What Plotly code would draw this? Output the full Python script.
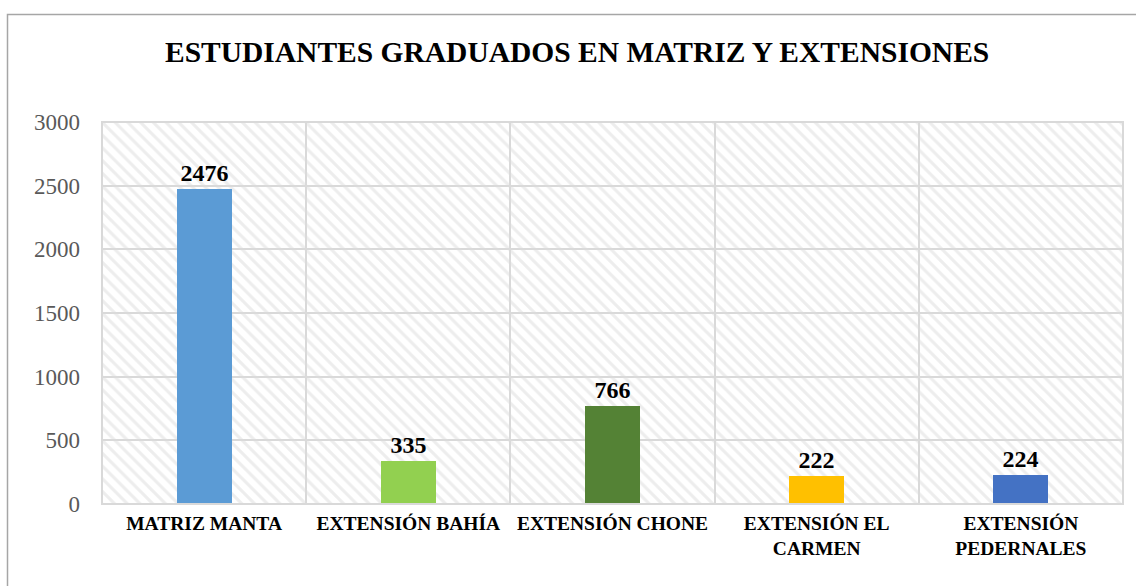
import plotly.graph_objects as go

categories = ["MATRIZ MANTA", "EXTENSIÓN BAHÍA", "EXTENSIÓN CHONE", "EXTENSIÓN EL<br>CARMEN", "EXTENSIÓN<br>PEDERNALES"]
values = [2476, 335, 766, 222, 224]
colors = ["#5B9BD5", "#92D050", "#548235", "#FFC000", "#4472C4"]
y_max = 3000
title = "ESTUDIANTES GRADUADOS EN MATRIZ Y EXTENSIONES"

W, H = 1136, 586
L, R, T, B = 102, 13, 122, 82

fig = go.Figure()
# hatched plot-area background
fig.add_trace(go.Bar(
    x=categories, y=[y_max] * len(categories), width=1,
    marker=dict(color="rgba(0,0,0,0)", line=dict(width=0),
                pattern=dict(shape="\\", fgcolor="#dcdcdc", bgcolor="rgba(0,0,0,0)",
                             size=9, solidity=0.35)),
    hoverinfo="skip", showlegend=False,
))
fig.add_trace(go.Bar(
    x=categories, y=values, width=0.27,
    marker=dict(color=colors, line=dict(width=0)),
    text=[str(v) for v in values], textposition="outside",
    textfont=dict(family="Liberation Serif", size=24, color="#000000"),
    texttemplate="<b>%{text}</b>", cliponaxis=False, showlegend=False,
))

px2x = lambda p: (p - L) / (W - L - R)
px2y = lambda p: (H - B - p) / (H - T - B)

fig.update_layout(
    width=W, height=H, margin=dict(l=L, r=R, t=T, b=B),
    barmode="overlay", bargap=0,
    paper_bgcolor="white", plot_bgcolor="white",
    title=dict(text="<b>" + title + "</b>", x=0.508, xanchor="center", y=1 - 52 / H, yanchor="middle",
               font=dict(family="Liberation Serif", size=29.5, color="#000000")),
    xaxis=dict(type="category", tickson="boundaries", showgrid=True, gridcolor="#d9d9d9", gridwidth=2,
               ticks="", showline=False, zeroline=False, range=[-0.5, 4.5],
               tickvals=categories, ticktext=["<b>" + c + "</b>" for c in categories],
               tickfont=dict(family="Liberation Serif", size=19.5, color="#000000"),
               ticklabelstandoff=5),
    yaxis=dict(range=[0, y_max], dtick=500, showgrid=True, gridcolor="#d9d9d9", gridwidth=1.5,
               zeroline=False, showline=False, ticks="",
               tickfont=dict(family="Liberation Serif", size=23, color="#595959"),
               ticklabelstandoff=21),
    shapes=[
        dict(type="rect", xref="paper", yref="paper", x0=px2x(7.5), x1=px2x(1150), y0=px2y(600), y1=px2y(14.5),
             line=dict(color="#a6a6a6", width=1.5), fillcolor="rgba(0,0,0,0)", layer="below"),
        dict(type="rect", xref="paper", yref="paper", x0=0, x1=1, y0=0, y1=1,
             line=dict(color="#d9d9d9", width=2), fillcolor="rgba(0,0,0,0)", layer="above"),
    ],
)
fig.update_xaxes(tickangle=0)

fig.write_html("out.html", config={"displayModeBar": False},
               post_script="document.body.style.margin='0';document.body.style.overflow='hidden';")
